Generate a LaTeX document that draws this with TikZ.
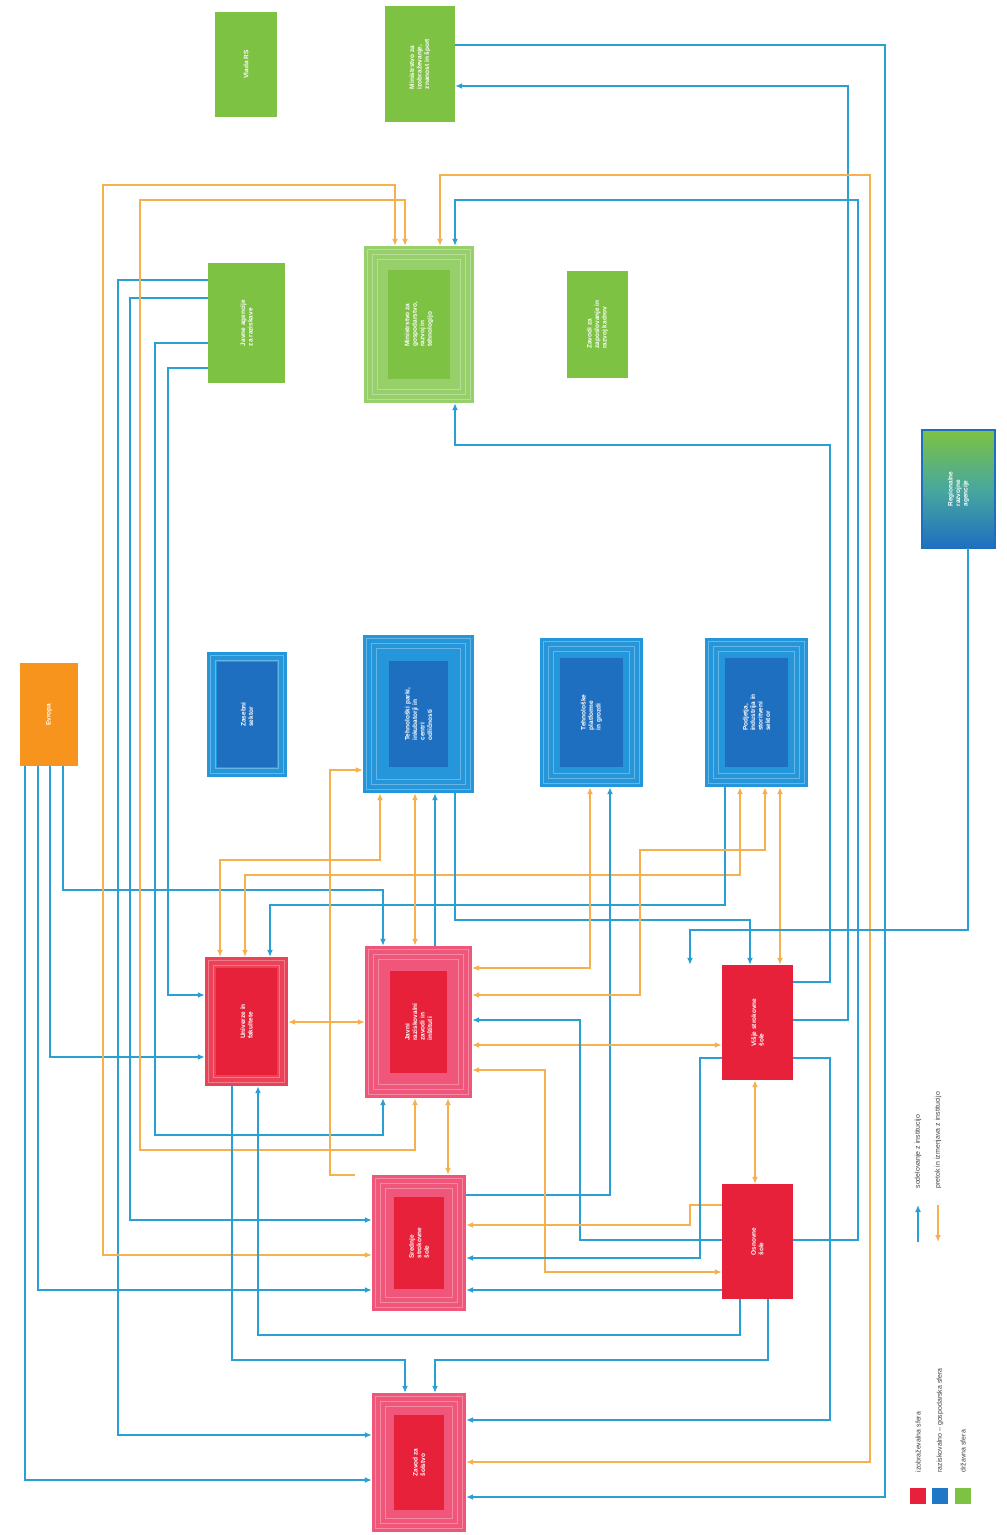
\documentclass[tikz,border=0pt]{standalone}
\usepackage{fontspec}
\setmainfont{Liberation Sans}
\usetikzlibrary{arrows.meta,calc}
\definecolor{gr}{HTML}{7DC242}
\definecolor{grl}{HTML}{97D06A}
\definecolor{bo}{HTML}{2596DA}
\definecolor{bi}{HTML}{1F6FC0}
\definecolor{rd}{HTML}{E8213A}
\definecolor{pk}{HTML}{F0567A}
\definecolor{og}{HTML}{F7941D}
\definecolor{cb}{HTML}{2A9FD6}
\definecolor{co}{HTML}{F6B04E}
\begin{document}
\begin{tikzpicture}[x=1pt,y=-1pt,
  box/.style={draw=none,inner sep=0pt,minimum width=#1},
  txt/.style={rotate=90,text=white,font=\fontsize{6.5}{7.5}\selectfont\bfseries,align=left},
  lg/.style={rotate=90,text=black!75,font=\fontsize{7}{8}\selectfont,anchor=west},
  bl/.style={draw=cb,line width=2.4pt,-{Latex[length=7pt,width=6pt]}},
  bb/.style={draw=cb,line width=2.4pt,{Latex[length=7pt,width=6pt]}-{Latex[length=7pt,width=6pt]}},
  ol/.style={draw=co,line width=2.4pt,-{Latex[length=7pt,width=6pt]}},
  ob/.style={draw=co,line width=2.4pt,{Latex[length=7pt,width=6pt]}-{Latex[length=7pt,width=6pt]}}]
\useasboundingbox (0,0) rectangle (1007,1535);
\fill[white] (0,0) rectangle (1007,1535);

% ---------- boxes ----------
\newcommand\mybox[7]{% name, x1,y1,x2,y2, fill, text
  \node[box=#4-#2,minimum height=#5-#3,fill=#6] (#1) at ({(#2+#4)/2},{(#3+#5)/2}) {};
  \node[txt] at (#1.center) {#7};}
\newcommand\myframed[9]{% name,x1,y1,x2,y2,outer,inner,inset,text
  \node[box=#4-#2,minimum height=#5-#3,fill=#6] (#1) at ({(#2+#4)/2},{(#3+#5)/2}) {};
  \draw[white,opacity=.3,line width=.8pt] ($(#1.north west)+(4,4)$) rectangle ($(#1.south east)+(-4,-4)$);
  \draw[white,opacity=.3,line width=.8pt] ($(#1.north west)+(9,9)$) rectangle ($(#1.south east)+(-9,-9)$);
  \draw[white,opacity=.3,line width=.8pt] ($(#1.north west)+(14,14)$) rectangle ($(#1.south east)+(-14,-14)$);
  \fill[#7] ($(#1.north west)+(#8,#8)$) rectangle ($(#1.south east)+(-#8,-#8)$);
  \node[txt] at (#1.center) {#9};}

% green
\mybox{G1}{215}{12}{277}{117}{gr}{Vlada RS}
\mybox{G2}{385}{6}{455}{122}{gr}{Ministrstvo za\\izobraževanje,\\znanost in šport}
\mybox{G3}{208}{263}{285}{383}{gr}{Javne agencije\\za raziskave}
\myframed{G4}{364}{246}{474}{403}{grl}{gr}{24}{Ministrstvo za\\gospodarstvo,\\razvoj in\\tehnologijo}
\mybox{G5}{567}{271}{628}{378}{gr}{Zavodi za\\zaposlovanje in\\razvoj kadrov}
% gradient
\shade[top color=gr,bottom color=bi,middle color=bo!60!gr] (922,430) rectangle (995,548);
\node[box=73,minimum height=118] (GB) at (958.5,489) {};
\draw[bi,line width=2pt] (922,430) rectangle (995,548);
\node[txt] at (GB.center) {Regionalne\\razvojne\\agencije};
% orange
\mybox{EU}{20}{663}{78}{766}{og}{Evropa}
% blue
\myframed{B1}{207}{652}{287}{777}{bo}{bi}{10}{Zasebni\\sektor}
\myframed{B2}{363}{635}{474}{793}{bo}{bi}{26}{Tehnološki parki,\\inkubatorji in\\centri\\odličnosti}
\myframed{B3}{540}{638}{643}{787}{bo}{bi}{20}{Tehnološke\\platforme\\in grozdi}
\myframed{B4}{705}{638}{808}{787}{bo}{bi}{20}{Podjetja,\\industrija in\\storitveni\\sektor}
% red
\myframed{R1}{205}{957}{288}{1086}{rd!85!white}{rd}{11}{Univerze in\\fakultete}
\myframed{R2}{365}{946}{472}{1098}{pk}{rd}{25}{Javni\\raziskovalni\\zavodi in\\inštituti}
\mybox{R3}{722}{965}{793}{1080}{rd}{Višje strokovne\\šole}
\myframed{R4}{372}{1175}{466}{1311}{pk}{rd}{22}{Srednje\\strokovne\\šole}
\mybox{R5}{722}{1184}{793}{1299}{rd}{Osnovne\\šole}
\myframed{R6}{372}{1393}{466}{1532}{pk}{rd}{22}{Zavod za\\šolstvo}

% ---------- connectors: right side ----------
\draw[bl] (G2.east |- 0,45) -| (885,1497) -- (R6.east |- 0,1497);
\draw[bl] (R3.east |- 0,1020) -| (848,86) -- (G2.east |- 0,86);
\draw[bl] (R5.east |- 0,1240) -| (858,200) -| (G4.north -| 455,0);
\draw[bl] (R3.east |- 0,982) -| (830,445) -| (G4.south -| 455,0);
\draw[bl] (R3.east |- 0,1058) -| (830,1420) -- (R6.east |- 0,1420);
\draw[ob] (R6.east |- 0,1462) -| (870,175) -| (G4.north -| 440,0);
\draw[ob] (B4.south -| 780,0) -- (R3.north -| 780,0);
\draw[bl] (GB.south -| 968,0) |- (690,930) -- (R3.north -| 690,0);

% ---------- left side ----------
\draw[bl] (EU.south -| 25,0) |- (R6.west |- 0,1480);
\draw[bl] (EU.south -| 38,0) |- (R4.west |- 0,1290);
\draw[bl] (EU.south -| 50,0) |- (R1.west |- 0,1057);
\draw[bl] (EU.south -| 63,0) |- (383,890) -- (R2.north -| 383,0);
\draw[bl] (G3.west |- 0,280) -| (118,1435) -- (R6.west |- 0,1435);
\draw[bl] (G3.west |- 0,298) -| (130,1220) -- (R4.west |- 0,1220);
\draw[bl] (G3.west |- 0,343) -| (155,1135) -| (R2.south -| 383,0);
\draw[bl] (G3.west |- 0,368) -| (168,995) -- (R1.west |- 0,995);
\draw[ob] (R4.west |- 0,1255) -| (103,185) -| (G4.north -| 395,0);
\draw[ob] (R2.south -| 415,0) |- (140,1150) |- (405,200) -- (G4.north -| 405,0);

% ---------- middle ----------
\draw[ob] (R1.north -| 220,0) |- (380,860) -- (B2.south -| 380,0);
\draw[ob] (R1.north -| 245,0) |- (740,875) -- (B4.south -| 740,0);
\draw[bl] (B4.south -| 725,0) |- (270,905) -- (R1.north -| 270,0);
\draw[ol] (R4.north west -| 355,1185) -| (330,770) -- (B2.west |- 0,770);
\draw[ob] (R2.north -| 415,0) -- (B2.south -| 415,0);
\draw[bl] (R2.north -| 435,0) -- (B2.south -| 435,0);
\draw[bl] (B2.south -| 455,0) |- (750,920) -- (R3.north -| 750,0);
\draw[ob] (R2.east |- 0,968) -| (590,800) -- (B3.south -| 590,0);
\draw[bl] (R4.east |- 0,1195) -| (610,800) -- (B3.south -| 610,0);
\draw[ob] (R2.east |- 0,995) -| (640,850) -| (765,800) -- (B4.south -| 765,0);
\draw[ob] (R2.east |- 0,1045) -- (R3.west |- 0,1045);
\draw[ob] (R2.east |- 0,1070) -| (545,1272) -- (R5.west |- 0,1272);
\draw[bl] (R5.west |- 0,1240) -| (580,1020) -- (R2.east |- 0,1020);
\draw[ol] (R5.west |- 0,1205) -| (690,1225) -- (R4.east |- 0,1225);
\draw[bl] (R5.west |- 0,1290) -- (R4.east |- 0,1290);
\draw[bl] (R3.west |- 0,1058) -| (700,1258) -- (R4.east |- 0,1258);
\draw[ob] (R1.east |- 0,1022) -- (R2.west |- 0,1022);
\draw[ob] (R2.south -| 448,0) -- (R4.north -| 448,0);
\draw[ob] (R3.south -| 755,0) -- (R5.north -| 755,0);

% ---------- bottom ----------
\draw[bl] (R1.south -| 232,0) |- (405,1360) -- (R6.north -| 405,0);
\draw[bl] (R5.south -| 740,0) |- (258,1335) -- (R1.south -| 258,0);
\draw[bl] (R5.south -| 768,0) |- (435,1360) -- (R6.north -| 435,0);

% ---------- legend ----------
\fill[rd] (910,1488) rectangle (926,1504);
\fill[bi!80!bo] (932,1488) rectangle (948,1504);
\fill[gr] (955,1488) rectangle (971,1504);
\node[lg] (L1) at (918,1476) {izobraževalna sfera};
\node[lg] (L2) at (940,1476) {raziskovalno – gospodarska sfera};
\node[lg] (L3) at (963,1476) {državna sfera};
\coordinate (A1) at (918,1242);
\coordinate (A2) at (918,1205);
\coordinate (A3) at (938,1205);
\coordinate (A4) at (938,1242);
\draw[bl] (A1) -- (A2);
\draw[ol] (A3) -- (A4);
\node[lg] (L4) at (918,1192) {sodelovanje z institucijo};
\node[lg] (L5) at (938,1192) {pretok in izmenjava z institucijo};
\end{tikzpicture}
\end{document}
